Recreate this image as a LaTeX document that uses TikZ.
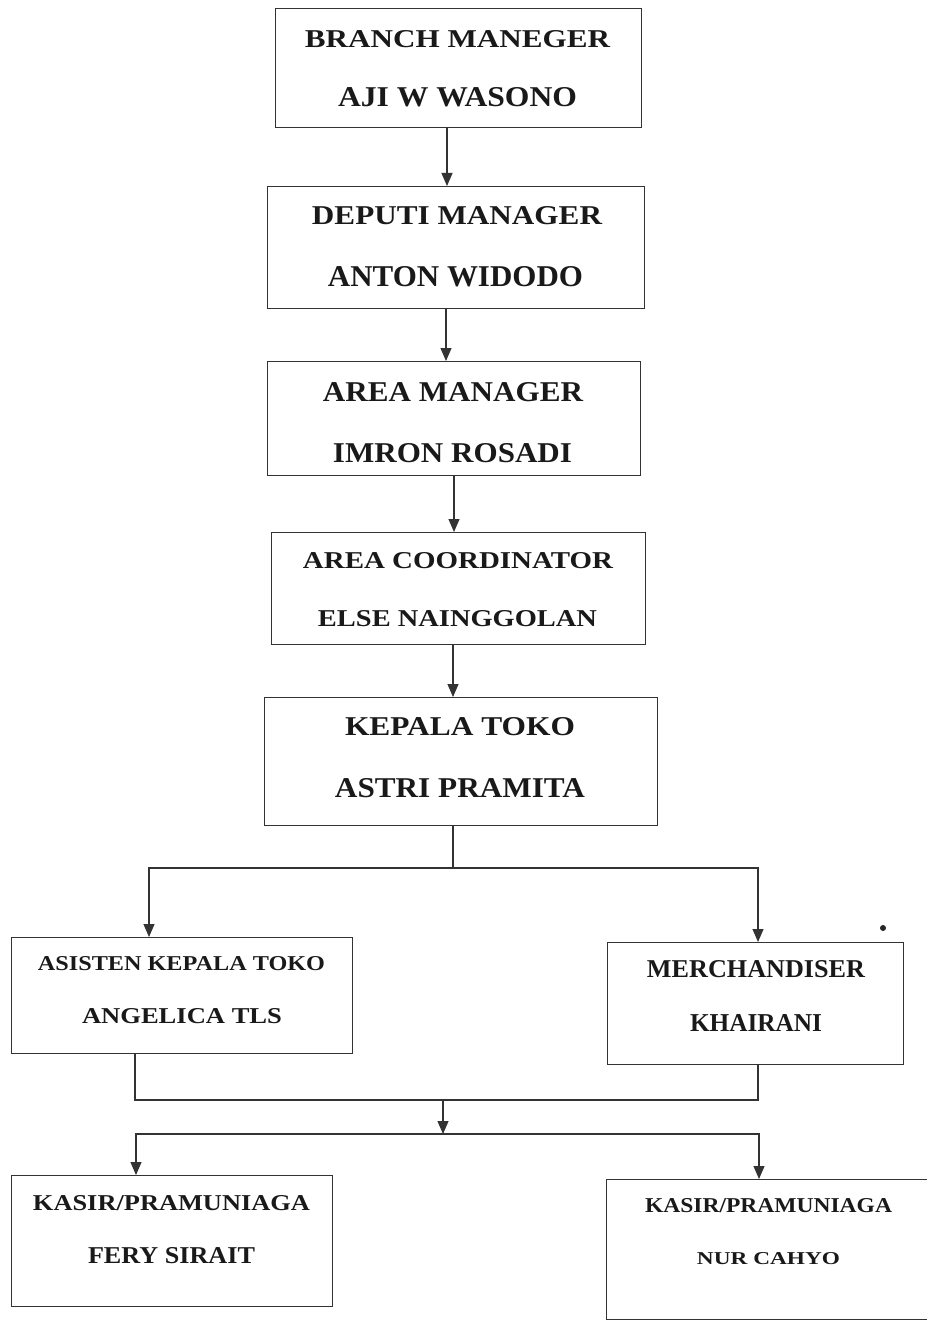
\documentclass[tikz,border=0pt]{standalone}
\usepackage{fontspec}
\setmainfont{Liberation Serif}
\usepackage{graphicx}
\usetikzlibrary{arrows.meta}
\newcommand\fitline[3]{\resizebox{#1pt}{#2pt}{\bfseries #3}}
\tikzset{
  box/.style={draw=black!80, line width=1.2pt, rectangle, inner sep=0pt, anchor=north west},
  txt/.style={inner sep=0pt, anchor=base, text=black!90},
  conn/.style={draw=black!80, line width=1.1pt},
  arr/.style={conn, -{Triangle[width=11pt,length=13pt]}}
}
\begin{document}
\begin{tikzpicture}[x=1pt,y=-1pt]
\useasboundingbox (0,0) rectangle (926,1321);
% boxes
\node[box, minimum width=366pt, minimum height=119pt] (b1) at (275,8) {};
\node[box, minimum width=377pt, minimum height=122pt] (b2) at (267,186) {};
\node[box, minimum width=373pt, minimum height=114pt] (b3) at (267,361) {};
\node[box, minimum width=374pt, minimum height=112pt] (b4) at (271,532) {};
\node[box, minimum width=393pt, minimum height=128pt] (b5) at (264,697) {};
\node[box, minimum width=341pt, minimum height=116pt] (b6) at (11,937) {};
\node[box, minimum width=296pt, minimum height=122pt] (b7) at (607,942) {};
\node[box, minimum width=321pt, minimum height=131pt] (b8) at (11,1175) {};
\node[box, minimum width=330pt, minimum height=140pt] (b9) at (606,1179) {};
% texts
\node[txt] (t1a) at (457.5,48) {\fitline{305}{17}{BRANCH MANEGER}};
\node[txt] (t1b) at (457.5,107) {\fitline{239}{19}{AJI W WASONO}};
\node[txt] (t2a) at (457,225) {\fitline{290}{18}{DEPUTI MANAGER}};
\node[txt] (t2b) at (455.5,287) {\fitline{255}{20}{ANTON WIDODO}};
\node[txt] (t3a) at (453,401) {\fitline{260}{19}{AREA MANAGER}};
\node[txt] (t3b) at (452.5,462) {\fitline{239}{19}{IMRON ROSADI}};
\node[txt] (t4a) at (458,568) {\fitline{310}{16}{AREA COORDINATOR}};
\node[txt] (t4b) at (457.5,626) {\fitline{279}{16}{ELSE NAINGGOLAN}};
\node[txt] (t5a) at (460,735) {\fitline{230}{18}{KEPALA TOKO}};
\node[txt] (t5b) at (460,797) {\fitline{250}{19}{ASTRI PRAMITA}};
\node[txt] (t6a) at (181.5,970) {\fitline{287}{14}{ASISTEN KEPALA TOKO}};
\node[txt] (t6b) at (182,1023) {\fitline{200}{15}{ANGELICA TLS}};
\node[txt] (t7a) at (756,977) {\fitline{218}{17}{MERCHANDISER}};
\node[txt] (t7b) at (756,1031) {\fitline{132}{17}{KHAIRANI}};
\node[txt] (t8a) at (171.5,1210) {\fitline{277}{15}{KASIR/PRAMUNIAGA}};
\node[txt] (t8b) at (171.5,1263) {\fitline{167}{16}{FERY SIRAIT}};
\node[txt] (t9a) at (768.5,1212) {\fitline{247}{14}{KASIR/PRAMUNIAGA}};
\node[txt] (t9b) at (768.5,1264) {\fitline{143}{12}{NUR CAHYO}};
% connector guides
\coordinate (x1) at (447,0);
\coordinate (x2) at (446,0);
\coordinate (x3) at (454,0);
\coordinate (x4) at (453,0);
\coordinate (xL) at (149,0);
\coordinate (xR) at (758,0);
\coordinate (j1) at (453,868);
\coordinate (xa) at (135,0);
\coordinate (j2) at (443,1100);
\coordinate (j3) at (443,1134);
\coordinate (xk) at (136,0);
\coordinate (xm) at (759,0);
% connectors
\draw[arr] (b1.south -| x1) -- (b2.north -| x1);
\draw[arr] (b2.south -| x2) -- (b3.north -| x2);
\draw[arr] (b3.south -| x3) -- (b4.north -| x3);
\draw[arr] (b4.south -| x4) -- (b5.north -| x4);
\draw[conn] (b5.south -| j1) -- (j1);
\draw[arr] (j1) -| (b6.north -| xL);
\draw[arr] (j1) -| (b7.north -| xR);
\draw[conn] (b6.south -| xa) |- (j2);
\draw[conn] (b7.south -| xR) |- (j2);
\draw[arr] (j2) -- (j3);
\draw[arr] (j3) -| (b8.north -| xk);
\draw[arr] (j3) -| (b9.north -| xm);
% scan speck
\fill[black!85] (883,928) circle (3pt);
\end{tikzpicture}
\end{document}
